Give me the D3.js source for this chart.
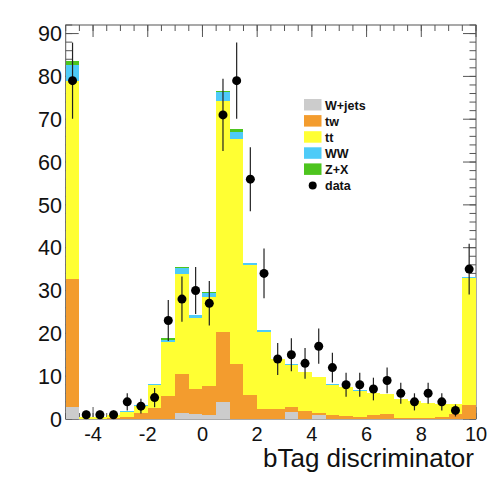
<!DOCTYPE html>
<html>
<head>
<meta charset="utf-8">
<script src="https://d3js.org/d3.v7.min.js"></script>
<style>
body { margin: 0; background: #fff; }
text { font-family: "Liberation Sans", Arial, Helvetica, sans-serif; }
</style>
</head>
<body>
<div id="chart"></div>
<script>
// bin lower edges (width 0.5) of the bTag discriminator histogram
var binLow = [-5, -4.5, -4, -3.5, -3, -2.5, -2, -1.5, -1, -0.5,
              0, 0.5, 1, 1.5, 2, 2.5, 3, 3.5, 4, 4.5,
              5, 5.5, 6, 6.5, 7, 7.5, 8, 8.5, 9, 9.5];
var binWidth = 0.5;

// stacked MC samples, bottom to top
var wjets = [2.9, 0, 0, 0, 0, 0, 0, 0, 1.3, 1.1,
             1.0, 4.0, 0, 0, 0, 0, 1.7, 0, 0.9, 0,
             0, 0, 0, 0, 0, 0, 0, 0, 0, 0];
var tw    = [29.7, 0.1, 0.1, 0.2, 0.5, 1.3, 2.6, 5.45, 9.2, 5.9,
             6.8, 16.2, 12.85, 5.5, 2.3, 2.3, 1.0, 1.9, 0.6, 0.9,
             0.7, 0.4, 0.9, 1.2, 0.3, 0.3, 0.3, 0.4, 1.2, 3.3];
var ttbar = [46.4, 0.3, 0.3, 0.7, 1.2, 1.7, 5.3, 12.6, 23.4, 16.5,
             20.7, 54.0, 52.6, 30.4, 18.0, 11.6, 9.8, 9.0, 8.3, 7.0,
             6.7, 6.1, 5.2, 4.6, 4.3, 3.85, 3.45, 3.1, 2.2, 29.7];
var ww    = [3.7, 0, 0, 0, 0.1, 0.2, 0.35, 0.45, 1.3, 0.7,
             1.0, 2.1, 1.6, 0.6, 0.5, 0.2, 0.3, 0.15, 0.1, 0.2,
             0.1, 0.2, 0.05, 0.05, 0.15, 0.05, 0.05, 0.05, 0, 0.1];
var zx    = [1.0, 0, 0, 0, 0, 0, 0, 0.4, 0.25, 0.1,
             0.1, 0.4, 0.6, 0, 0, 0, 0, 0, 0, 0,
             0, 0, 0, 0, 0, 0, 0, 0, 0, 0];
var data  = [79, 1, 1, 1, 4, 3, 5, 23, 28, 30,
             27, 71, 79, 56, 34, 14, 15, 13, 17, 12,
             8, 8, 7, 9, 6, 4, 6, 4, 2, 35];

var sampleKeys   = ["wjets", "tw", "ttbar", "ww", "zx"];
var sampleLabels = ["W+jets", "tw", "tt", "WW", "Z+X"];
var sampleColors = ["#cccccc", "#f39c2e", "#ffff33", "#4ecbf8", "#4dc41e"];

var xMajor = [-4, -2, 0, 2, 4, 6, 8, 10];
var xMinor = binLow.concat([10]);
var yMajor = [0, 10, 20, 30, 40, 50, 60, 70, 80, 90];
var yMinor = [0, 2, 4, 6, 8, 10, 12, 14, 16, 18, 20, 22, 24, 26, 28, 30, 32, 34, 36, 38, 40,
              42, 44, 46, 48, 50, 52, 54, 56, 58, 60, 62, 64, 66, 68, 70, 72, 74, 76, 78, 80,
              82, 84, 86, 88, 90, 92];

var W = 502, H = 482;
var frame = {left: 65.7, right: 476, top: 25, bottom: 419};

var svg = d3.select("#chart").append("svg")
    .attr("width", W)
    .attr("height", H);

var x = d3.scaleLinear().domain([-5, 10]).range([frame.left, frame.right]);
var y = d3.scaleLinear().domain([0, 92]).range([frame.bottom, frame.top]);

var axisColor = "#555";

// frame
svg.append("rect")
    .attr("x", frame.left).attr("y", frame.top)
    .attr("width", frame.right - frame.left)
    .attr("height", frame.bottom - frame.top)
    .style("fill", "none")
    .style("stroke", axisColor)
    .style("stroke-width", 1);

// ticks, pointing inward on all four sides (ROOT style)
var ticks = svg.append("g").style("stroke", axisColor).style("stroke-width", 1);
function xTicks(vals, len) {
    vals.forEach(function(v) {
        ticks.append("line").attr("x1", x(v)).attr("x2", x(v))
            .attr("y1", frame.bottom).attr("y2", frame.bottom - len);
        ticks.append("line").attr("x1", x(v)).attr("x2", x(v))
            .attr("y1", frame.top).attr("y2", frame.top + len);
    });
}
function yTicks(vals, len) {
    vals.forEach(function(v) {
        ticks.append("line").attr("y1", y(v)).attr("y2", y(v))
            .attr("x1", frame.left).attr("x2", frame.left + len);
        ticks.append("line").attr("y1", y(v)).attr("y2", y(v))
            .attr("x1", frame.right).attr("x2", frame.right - len);
    });
}
xTicks(xMinor, 6);
xTicks(xMajor, 12);
yTicks(yMinor, 6.5);
yTicks(yMajor, 13);

// tick labels
svg.append("g").selectAll("text")
    .data(xMajor).enter()
    .append("text")
    .attr("x", function(d) { return x(d); })
    .attr("y", 441)
    .attr("text-anchor", "middle")
    .style("font-size", "20px")
    .style("fill", "#111")
    .text(function(d) { return d; });

svg.append("g").selectAll("text")
    .data(yMajor).enter()
    .append("text")
    .attr("x", 62)
    .attr("y", function(d) { return y(d) + 7.7; })
    .attr("text-anchor", "end")
    .style("font-size", "21.5px")
    .style("fill", "#111")
    .text(function(d) { return d; });

// axis title
svg.append("text")
    .attr("x", 474)
    .attr("y", 467)
    .attr("text-anchor", "end")
    .style("font-size", "26px")
    .style("fill", "#111")
    .text("bTag discriminator");

// stacked histograms
var table = binLow.map(function(lo, i) {
    return {lo: lo, wjets: wjets[i], tw: tw[i], ttbar: ttbar[i], ww: ww[i], zx: zx[i]};
});
var layers = d3.stack().keys(sampleKeys)(table);

svg.append("g").selectAll("g")
    .data(layers).enter()
    .append("g")
    .style("fill", function(d, i) { return sampleColors[i]; })
    .selectAll("rect")
    .data(function(d) { return d; }).enter()
    .append("rect")
    .attr("x", function(d) { return x(d.data.lo); })
    .attr("width", function(d) { return x(d.data.lo + binWidth) - x(d.data.lo); })
    .attr("y", function(d) { return y(d[1]); })
    .attr("height", function(d) { return y(d[0]) - y(d[1]); })
    .attr("shape-rendering", "crispEdges");

// data points with Poisson errors
var pts = binLow.map(function(lo, i) { return {xc: lo + binWidth / 2, n: data[i]}; });
var dataG = svg.append("g");
dataG.selectAll("line")
    .data(pts).enter()
    .append("line")
    .attr("x1", function(d) { return x(d.xc); })
    .attr("x2", function(d) { return x(d.xc); })
    .attr("y1", function(d) { return y(d.n + Math.sqrt(d.n)); })
    .attr("y2", function(d) { return y(Math.max(0, d.n - Math.sqrt(d.n))); })
    .style("stroke", "#222")
    .style("stroke-width", 1.2);
dataG.selectAll("circle")
    .data(pts).enter()
    .append("circle")
    .attr("cx", function(d) { return x(d.xc); })
    .attr("cy", function(d) { return y(d.n); })
    .attr("r", 4.5)
    .style("fill", "#000");

// legend
var legend = svg.append("g").attr("transform", "translate(304,99)");
var rowH = 16.1;
sampleLabels.forEach(function(lab, i) {
    legend.append("rect")
        .attr("x", 0).attr("y", i * rowH)
        .attr("width", 17.5).attr("height", 11.5)
        .style("fill", sampleColors[i]);
    legend.append("text")
        .attr("x", 21).attr("y", i * rowH + 10.5)
        .style("font-size", "12.5px")
        .style("font-weight", "bold")
        .style("fill", "#111")
        .text(lab);
});
legend.append("circle")
    .attr("cx", 8.7).attr("cy", 5 * rowH + 6)
    .attr("r", 4)
    .style("fill", "#000");
legend.append("text")
    .attr("x", 21).attr("y", 5 * rowH + 10.5)
    .style("font-size", "12.5px")
    .style("font-weight", "bold")
    .style("fill", "#111")
    .text("data");
</script>
</body>
</html>
